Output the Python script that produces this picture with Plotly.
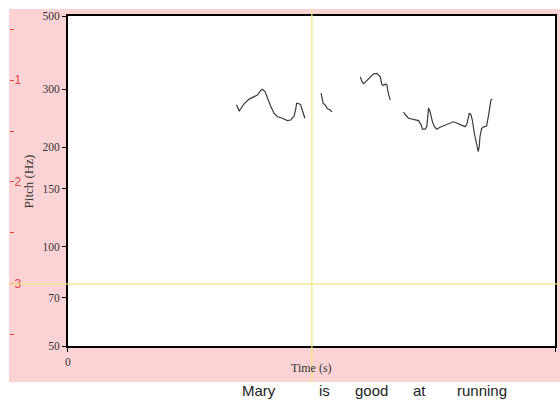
import math
import plotly.graph_objects as go

# Pitch contour segments (time in s, F0 in Hz)
seg1_t = [1.371, 1.393, 1.407, 1.433, 1.474, 1.514, 1.541, 1.569, 1.582, 1.603, 1.622, 1.650,
          1.676, 1.703, 1.744, 1.784, 1.812, 1.838, 1.852, 1.860, 1.879, 1.893, 1.905, 1.919, 1.927]
seg1_f = [269, 258, 262, 271, 280, 285, 288, 298, 300, 295, 282, 266,
          254, 248, 245, 241, 242, 248, 260, 272, 271, 269, 260, 251, 245]

seg2_t = [2.059, 2.067, 2.075, 2.095, 2.108, 2.130, 2.148]
seg2_f = [292, 282, 272, 268, 262, 260, 256]

seg3_t = [2.378, 2.391, 2.405, 2.432, 2.459, 2.486, 2.513, 2.540, 2.553, 2.567, 2.581, 2.594,
          2.602, 2.613, 2.621]
seg3_f = [327, 316, 312, 319, 326, 334, 335, 327, 310, 308, 311, 309, 295, 282, 278]

seg4_t = [2.729, 2.743, 2.770, 2.810, 2.851, 2.872, 2.883, 2.905, 2.918, 2.926, 2.932, 2.945,
          2.953, 2.964, 2.980, 2.999, 3.026, 3.053, 3.093, 3.134, 3.161, 3.201, 3.229, 3.242,
          3.255, 3.264, 3.277, 3.288, 3.304, 3.323, 3.336, 3.344, 3.350, 3.363, 3.385, 3.404,
          3.412, 3.423, 3.431, 3.439, 3.450]
seg4_f = [256, 251, 245, 243, 241, 234, 227, 227, 231, 248, 263, 256,
          248, 239, 231, 227, 230, 232, 235, 239, 237, 234, 231, 234,
          245, 254, 251, 242, 221, 203, 194, 201, 215, 228, 231, 232,
          239, 254, 266, 278, 280]

segments = [(seg1_t, seg1_f), (seg2_t, seg2_f), (seg3_t, seg3_f), (seg4_t, seg4_f)]

# Axes
time_range = [0, 3.96]
time_ticks = [0, 3.96]
time_ticklabels = ["0", "3.96"]
pitch_ticks = [50, 70, 100, 150, 200, 300, 500]
pitch_range = [50, 500]

# Cursor position
cursor_time = 1.984
cursor_pitch = 77.1

# Word tier
words = ["Mary", "is", "good", "at", "running"]
word_times = [1.555, 2.089, 2.470, 2.859, 3.369]

# Tier numbering on the left edge
tier_range = [3.608, 0.3725]
tier_ticks = [1, 2, 3]

fig = go.Figure()
for t, f in segments:
    fig.add_trace(go.Scatter(x=t, y=f, mode="lines",
                             line=dict(color="#3a3a3a", width=1.2),
                             showlegend=False, hoverinfo="skip"))
fig.add_trace(go.Scatter(x=[], y=[], yaxis="y2", showlegend=False))

pink = "#fbd3d4"
yellow = "#f2e67a"
serif = "Liberation Serif, Times New Roman, serif"
sans = "Liberation Sans, Arial, sans-serif"

fig.add_shape(type="rect", xref="paper", yref="paper",
              x0=0, x1=1.02, y0=-0.1091, y1=1.0212,
              fillcolor=pink, line_width=0, layer="below")
fig.add_shape(type="rect", xref="x domain", yref="paper",
              x0=0, x1=1, y0=0, y1=1,
              fillcolor="white", line_width=0, layer="below")
fig.add_shape(type="line", xref="x", yref="paper",
              x0=cursor_time, x1=cursor_time, y0=-0.1091, y1=1.0212,
              line=dict(color=yellow, width=1.2), layer="above")
fig.add_shape(type="line", xref="paper", yref="y",
              x0=0, x1=1.02, y0=cursor_pitch, y1=cursor_pitch,
              line=dict(color=yellow, width=1.2), layer="above")

fig.add_annotation(text="Pitch (Hz)", xref="paper", yref="paper",
                   x=(19 - 9) / 548, y=(346 - 181) / 330, textangle=-90,
                   showarrow=False, bgcolor="rgba(0,0,0,0)",
                   font=dict(family=serif, size=13, color="#333333"))
fig.add_annotation(text="Time (s)", xref="paper", yref="paper",
                   x=(313 - 9) / 548, y=(346 - 377) / 330,
                   showarrow=False, font=dict(family=serif, size=12, color="#333333"))
for w, t in zip(words, word_times):
    fig.add_annotation(text=w, xref="x", yref="paper", x=t, y=(346 - 401) / 330,
                       showarrow=False,
                       font=dict(family=sans, size=15, color="#222222"))

fig.update_layout(
    width=560, height=409,
    margin=dict(l=9, r=3, t=16, b=63),
    paper_bgcolor="white", plot_bgcolor="white",
    xaxis=dict(domain=[59 / 548, 1], range=time_range, tickvals=time_ticks,
               ticktext=time_ticklabels, ticks="outside", ticklen=4, tickcolor="black",
               showline=True, linecolor="black", linewidth=1.6, mirror=True,
               showgrid=False, zeroline=False,
               tickfont=dict(family=serif, size=11.5, color="#333333")),
    yaxis=dict(type="log", range=[math.log10(pitch_range[0]), math.log10(pitch_range[1])],
               tickvals=pitch_ticks, ticks="outside", ticklen=4, tickcolor="black",
               showline=True, linecolor="black", linewidth=1.6, mirror=True,
               showgrid=False, zeroline=False,
               tickfont=dict(family=serif, size=11.5, color="#333333")),
    yaxis2=dict(overlaying="y", anchor="free", position=0, side="left",
                range=tier_range, tickvals=tier_ticks,
                ticktext=[str(v) for v in tier_ticks],
                ticks="inside", ticklen=4, tickcolor="#e04545", tickwidth=1,
                ticklabelposition="inside", ticklabelstandoff=0,
                showline=False, showgrid=False, zeroline=False,
                minor=dict(dtick=0.5, tick0=0, ticks="inside", ticklen=4,
                           tickcolor="#e04545", showgrid=False),
                tickfont=dict(family=sans, size=12, color="#e04545")),
)

fig.write_html("out.html")
